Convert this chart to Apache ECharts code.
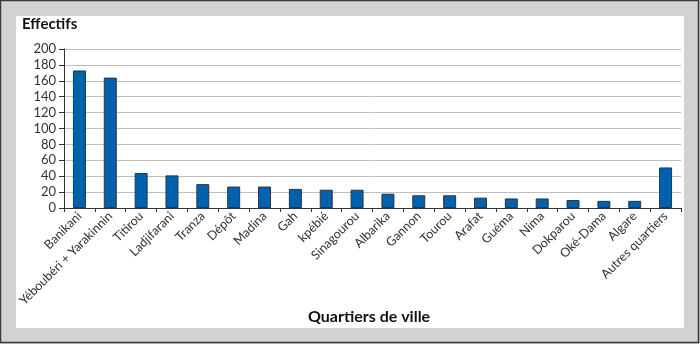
<!DOCTYPE html>
<html>
<head>
<meta charset="utf-8">
<script src="https://cdn.jsdelivr.net/npm/echarts@6/dist/echarts.min.js"></script>
<style>
  html, body { margin: 0; padding: 0; background: #fff; }
  #chart { width: 700px; height: 344px; }
</style>
</head>
<body>
<div id="chart"></div>
<script>
// Neighbourhoods (quartiers) and their headcounts
const quartiers = [
  'Banikani', 'Yéboubéri + Yarakinnin', 'Titirou', 'Ladjifarani', 'Tranza',
  'Dépôt', 'Madina', 'Gah', 'kpébié', 'Sinagourou', 'Albarika', 'Gannon',
  'Tourou', 'Arafat', 'Guéma', 'Nima', 'Dokparou', 'Oké-Dama', 'Algare',
  'Autres quartiers'
];
const effectifs = [173, 164, 44, 41, 30, 27, 27, 24, 23, 23, 18, 16, 16, 13, 12, 12, 10, 9, 9, 51];
const yTicks = { min: 0, max: 200, step: 20 };

const FONT = 'Lato, "Open Sans", "DejaVu Sans", sans-serif';

const chart = echarts.init(document.getElementById('chart'), null, { renderer: 'canvas' });

chart.setOption({
  backgroundColor: '#d1d2d4',
  animation: false,
  graphic: [
    // outer dark frame
    { type: 'rect', silent: true, z: -10,
      shape: { x: 0.5, y: 0.5, width: 698, height: 342 },
      style: { fill: 'none', stroke: '#3a3a3a', lineWidth: 1.5 } },
    // white panel
    { type: 'rect', silent: true, z: -10,
      shape: { x: 16, y: 16, width: 668, height: 312 },
      style: { fill: '#ffffff' } },
    { type: 'text', left: 22, top: 17, z: 10,
      style: { text: 'Effectifs', font: 'bold 15px ' + FONT, fill: '#111' } },
    { type: 'text', left: 308, top: 309, z: 10,
      style: { text: 'Quartiers de ville', font: 'bold 16px ' + FONT, fill: '#111' } }
  ],
  grid: { left: 64, right: 19, top: 49, bottom: 136, containLabel: false },
  xAxis: {
    type: 'category',
    data: quartiers,
    axisLine: { lineStyle: { color: '#333', width: 1 } },
    axisTick: { show: true, length: 4, alignWithLabel: false, lineStyle: { color: '#333' } },
    axisLabel: {
      interval: 0, rotate: 45, margin: 6,
      fontFamily: FONT, fontSize: 12.5, color: '#333'
    }
  },
  yAxis: {
    type: 'value',
    min: yTicks.min, max: yTicks.max, interval: yTicks.step,
    axisLine: { show: true, lineStyle: { color: '#333', width: 1 } },
    axisTick: { show: true, length: 5, lineStyle: { color: '#333' } },
    axisLabel: { fontFamily: FONT, fontSize: 13, color: '#333', margin: 8 },
    splitLine: { show: true, lineStyle: { color: '#bfbfbf', width: 1 } }
  },
  series: [{
    type: 'bar',
    data: effectifs,
    barWidth: 13,
    itemStyle: { color: '#0062ae', borderColor: '#2b3440', borderWidth: 1 }
  }]
});
</script>
</body>
</html>
